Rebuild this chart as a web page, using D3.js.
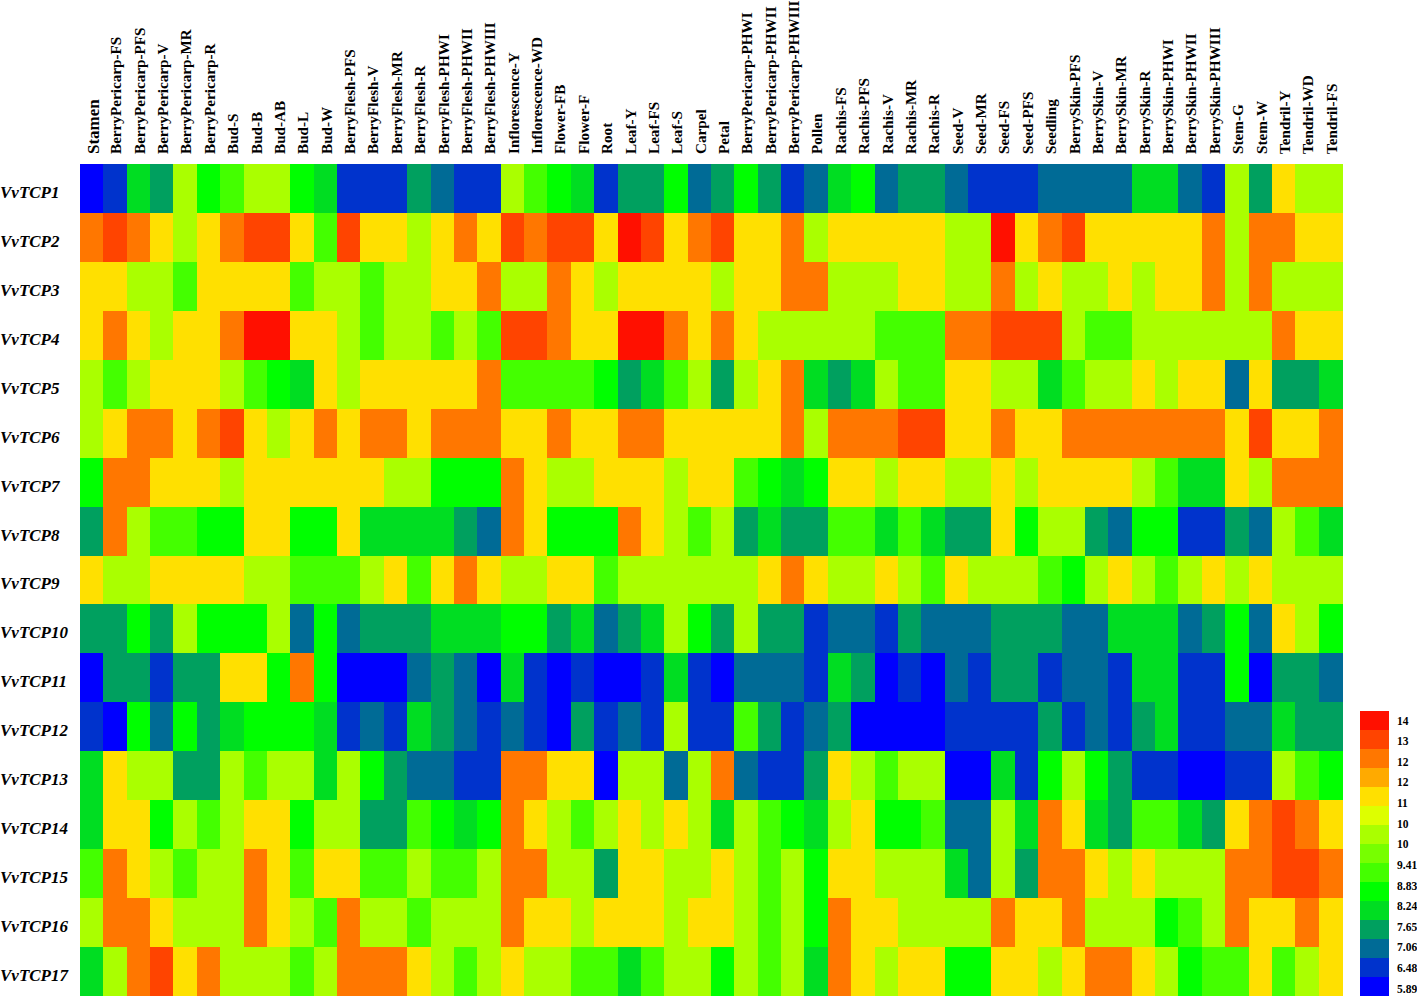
<!DOCTYPE html>
<html>
<head>
<meta charset="utf-8">
<script src="https://cdn.jsdelivr.net/npm/d3@7/dist/d3.min.js"></script>
<style>
html,body{margin:0;padding:0;background:#fff;overflow:hidden}
svg{display:block}
text{font-family:"Liberation Serif","Times New Roman",serif;fill:#000}
</style>
</head>
<body>
<svg id="chart" width="1417" height="996"></svg>
<script>
const tissues = ["Stamen","BerryPericarp-FS","BerryPericarp-PFS","BerryPericarp-V","BerryPericarp-MR","BerryPericarp-R","Bud-S","Bud-B","Bud-AB","Bud-L","Bud-W","BerryFlesh-PFS","BerryFlesh-V","BerryFlesh-MR","BerryFlesh-R","BerryFlesh-PHWI","BerryFlesh-PHWII","BerryFlesh-PHWIII","Inflorescence-Y","Inflorescence-WD","Flower-FB","Flower-F","Root","Leaf-Y","Leaf-FS","Leaf-S","Carpel","Petal","BerryPericarp-PHWI","BerryPericarp-PHWII","BerryPericarp-PHWIII","Pollen","Rachis-FS","Rachis-PFS","Rachis-V","Rachis-MR","Rachis-R","Seed-V","Seed-MR","Seed-FS","Seed-PFS","Seedling","BerrySkin-PFS","BerrySkin-V","BerrySkin-MR","BerrySkin-R","BerrySkin-PHWI","BerrySkin-PHWII","BerrySkin-PHWIII","Stem-G","Stem-W","Tendril-Y","Tendril-WD","Tendril-FS"];
const genes = ["VvTCP1","VvTCP2","VvTCP3","VvTCP4","VvTCP5","VvTCP6","VvTCP7","VvTCP8","VvTCP9","VvTCP10","VvTCP11","VvTCP12","VvTCP13","VvTCP14","VvTCP15","VvTCP16","VvTCP17"];

const vvTCP1 = [5.9,6.5,8.2,7.7,10.6,8.8,9.4,10.6,10.6,8.8,8.2,6.5,6.5,6.5,7.7,7.1,6.5,6.5,10.6,9.4,8.8,8.2,6.5,7.7,7.7,8.8,7.1,7.7,8.8,7.7,6.5,7.1,8.2,8.8,7.1,7.7,7.7,7.1,6.5,6.5,6.5,7.1,7.1,7.1,7.1,8.2,8.2,7.1,6.5,10.6,7.7,11.8,10.6,10.6];
const vvTCP2 = [12.9,13.5,12.9,11.8,10.6,11.8,12.9,13.5,13.5,11.8,9.4,13.5,11.8,11.8,10.6,11.8,12.9,11.8,13.5,12.9,13.5,13.5,11.8,14.1,13.5,11.8,12.9,13.5,11.8,11.8,12.9,10.6,11.8,11.8,11.8,11.8,11.8,10.6,10.6,14.1,11.8,12.9,13.5,11.8,11.8,11.8,11.8,11.8,12.9,10.6,12.9,12.9,11.8,11.8];
const vvTCP3 = [11.8,11.8,10.6,10.6,9.4,11.8,11.8,11.8,11.8,9.4,10.6,10.6,9.4,10.6,10.6,11.8,11.8,12.9,10.6,10.6,12.9,11.8,10.6,11.8,11.8,11.8,11.8,10.6,11.8,11.8,12.9,12.9,10.6,10.6,10.6,11.8,11.8,10.6,10.6,12.9,10.6,11.8,10.6,10.6,11.8,10.6,11.8,11.8,12.9,10.6,12.9,10.6,10.6,10.6];
const vvTCP4 = [11.8,12.9,11.8,10.6,11.8,11.8,12.9,14.1,14.1,11.8,11.8,10.6,9.4,10.6,10.6,9.4,10.6,9.4,13.5,13.5,12.9,11.8,11.8,14.1,14.1,12.9,11.8,12.9,11.8,10.6,10.6,10.6,10.6,10.6,9.4,9.4,9.4,12.9,12.9,13.5,13.5,13.5,10.6,9.4,9.4,10.6,10.6,10.6,10.6,10.6,10.6,12.9,11.8,11.8];
const vvTCP5 = [10.6,9.4,10.6,11.8,11.8,11.8,10.6,9.4,8.8,8.2,11.8,10.6,11.8,11.8,11.8,11.8,11.8,12.9,9.4,9.4,9.4,9.4,8.8,7.7,8.2,9.4,10.6,7.7,10.6,11.8,12.9,8.2,7.7,8.2,10.6,9.4,9.4,11.8,11.8,10.6,10.6,8.2,9.4,10.6,10.6,11.8,10.6,11.8,11.8,7.1,11.8,7.7,7.7,8.2];
const vvTCP6 = [10.6,11.8,12.9,12.9,11.8,12.9,13.5,11.8,10.6,11.8,12.9,11.8,12.9,12.9,11.8,12.9,12.9,12.9,11.8,11.8,12.9,11.8,11.8,12.9,12.9,11.8,11.8,11.8,11.8,11.8,12.9,10.6,12.9,12.9,12.9,13.5,13.5,11.8,11.8,12.9,11.8,11.8,12.9,12.9,12.9,12.9,12.9,12.9,12.9,11.8,13.5,11.8,11.8,12.9];
const vvTCP7 = [8.8,12.9,12.9,11.8,11.8,11.8,10.6,11.8,11.8,11.8,11.8,11.8,11.8,10.6,10.6,8.8,8.8,8.8,12.9,11.8,10.6,10.6,11.8,11.8,11.8,10.6,11.8,11.8,9.4,8.8,8.2,8.8,11.8,11.8,10.6,11.8,11.8,10.6,10.6,11.8,10.6,11.8,11.8,11.8,11.8,10.6,9.4,8.2,8.2,11.8,10.6,12.9,12.9,12.9];
const vvTCP8 = [7.7,12.9,10.6,9.4,9.4,8.8,8.8,11.8,11.8,8.8,8.8,11.8,8.2,8.2,8.2,8.2,7.7,7.1,12.9,11.8,8.8,8.8,8.8,12.9,11.8,10.6,9.4,10.6,7.7,8.2,7.7,7.7,9.4,9.4,8.2,9.4,8.2,7.7,7.7,11.8,8.8,10.6,10.6,7.7,7.1,8.8,8.8,6.5,6.5,7.7,7.1,10.6,9.4,8.2];
const vvTCP9 = [11.8,10.6,10.6,11.8,11.8,11.8,11.8,10.6,10.6,9.4,9.4,9.4,10.6,11.8,9.4,11.8,12.9,11.8,10.6,10.6,11.8,11.8,9.4,10.6,10.6,10.6,10.6,10.6,10.6,11.8,12.9,11.8,10.6,10.6,11.8,10.6,9.4,11.8,10.6,10.6,10.6,9.4,8.8,10.6,11.8,10.6,9.4,10.6,11.8,10.6,11.8,10.6,10.6,10.6];
const vvTCP10 = [7.7,7.7,8.8,7.7,10.6,8.8,8.8,8.8,10.6,7.1,8.8,7.1,7.7,7.7,7.7,8.2,8.2,8.2,8.8,8.8,7.7,8.2,7.1,7.7,8.2,10.6,8.8,7.7,10.6,7.7,7.7,6.5,7.1,7.1,6.5,7.7,7.1,7.1,7.1,7.7,7.7,7.7,7.1,7.1,8.2,8.2,8.2,7.1,7.7,8.8,7.1,11.8,10.6,8.8];
const vvTCP11 = [5.9,7.7,7.7,6.5,7.7,7.7,11.8,11.8,8.8,12.9,8.8,5.9,5.9,5.9,7.1,7.7,7.1,5.9,8.2,6.5,5.9,6.5,5.9,5.9,6.5,8.2,6.5,5.9,7.1,7.1,7.1,6.5,8.2,7.7,5.9,6.5,5.9,7.1,6.5,7.7,7.7,6.5,7.1,7.1,6.5,8.2,8.2,6.5,6.5,8.8,5.9,7.7,7.7,7.1];
const vvTCP12 = [6.5,5.9,8.8,7.1,8.8,7.7,8.2,8.8,8.8,8.8,8.2,6.5,7.1,6.5,8.2,7.7,7.1,6.5,7.1,6.5,5.9,7.7,6.5,7.1,6.5,10.6,6.5,6.5,9.4,7.7,6.5,7.1,7.7,5.9,5.9,5.9,5.9,6.5,6.5,6.5,6.5,7.7,6.5,7.1,6.5,7.7,8.2,6.5,6.5,7.1,7.1,8.2,7.7,7.7];
const vvTCP13 = [8.2,11.8,10.6,10.6,7.7,7.7,10.6,9.4,10.6,10.6,8.2,10.6,8.8,7.7,7.1,7.1,6.5,6.5,12.9,12.9,11.8,11.8,5.9,10.6,10.6,7.1,10.6,12.9,7.1,6.5,6.5,7.7,11.8,10.6,9.4,10.6,10.6,5.9,5.9,8.2,6.5,8.8,10.6,8.8,7.7,6.5,6.5,5.9,5.9,6.5,6.5,10.6,9.4,8.8];
const vvTCP14 = [8.2,11.8,11.8,8.8,10.6,9.4,10.6,11.8,11.8,8.8,10.6,10.6,7.7,7.7,9.4,8.8,8.2,8.8,12.9,11.8,10.6,9.4,10.6,11.8,10.6,11.8,10.6,8.2,10.6,9.4,8.8,8.2,10.6,11.8,8.8,8.8,9.4,7.1,7.1,10.6,8.2,12.9,11.8,8.2,7.7,9.4,9.4,8.2,7.7,11.8,12.9,13.5,12.9,11.8];
const vvTCP15 = [9.4,12.9,11.8,10.6,9.4,10.6,10.6,12.9,11.8,9.4,11.8,11.8,9.4,9.4,10.6,9.4,9.4,10.6,12.9,12.9,10.6,10.6,7.7,11.8,11.8,10.6,10.6,11.8,10.6,9.4,10.6,8.8,11.8,11.8,10.6,10.6,10.6,8.2,7.1,10.6,7.7,12.9,12.9,11.8,10.6,11.8,10.6,10.6,10.6,12.9,12.9,13.5,13.5,12.9];
const vvTCP16 = [10.6,12.9,12.9,11.8,10.6,10.6,10.6,12.9,11.8,10.6,9.4,12.9,10.6,10.6,9.4,10.6,10.6,10.6,12.9,11.8,11.8,10.6,11.8,11.8,11.8,10.6,11.8,11.8,10.6,9.4,10.6,8.8,12.9,11.8,11.8,10.6,10.6,10.6,10.6,12.9,11.8,11.8,12.9,10.6,10.6,10.6,8.8,9.4,10.6,12.9,11.8,11.8,12.9,11.8];
const vvTCP17 = [8.2,10.6,12.9,13.5,11.8,12.9,10.6,10.6,10.6,9.4,10.6,12.9,12.9,12.9,11.8,10.6,9.4,10.6,11.8,10.6,10.6,9.4,9.4,8.2,9.4,10.6,10.6,8.8,10.6,9.4,10.6,8.2,12.9,11.8,10.6,11.8,11.8,8.8,8.8,11.8,11.8,10.6,11.8,12.9,12.9,11.8,10.6,8.8,9.4,9.4,11.8,9.4,10.6,11.8];
const matrix = [vvTCP1,vvTCP2,vvTCP3,vvTCP4,vvTCP5,vvTCP6,vvTCP7,vvTCP8,vvTCP9,vvTCP10,vvTCP11,vvTCP12,vvTCP13,vvTCP14,vvTCP15,vvTCP16,vvTCP17];

const palette = ["#0000ff","#0033cc","#006b96","#00a05f","#00dd22","#00ff00","#44ff00","#77ff00","#aaff00","#ddff00","#ffe000","#ffaa00","#ff7700","#ff4400","#ff1000"];
const legendLabels = ["14","13","12","12","11","10","10","9.41","8.83","8.24","7.65","7.06","6.48","5.89"];
const valueDomain = [5.6,14.4];

const svg = d3.select("#chart");
const x = d3.scaleBand().domain(tissues).range([80,1342]);
const y = d3.scaleBand().domain(genes).range([164,996]);
const color = d3.scaleQuantize().domain(valueDomain).range(palette);

const cells = genes.flatMap((g,r)=>tissues.map((t,c)=>({gene:g,tissue:t,value:matrix[r][c]})));
svg.append("g").attr("shape-rendering","crispEdges").selectAll("rect").data(cells).join("rect")
  .attr("x",d=>x(d.tissue)).attr("y",d=>y(d.gene))
  .attr("width",x.bandwidth()+0.5).attr("height",y.bandwidth()+0.5)
  .attr("fill",d=>color(d.value));

const xAxis = svg.append("g").attr("transform","translate(1,164)")
  .call(d3.axisTop(x).tickSize(0).tickPadding(0));
xAxis.select(".domain").remove();
xAxis.selectAll("text")
  .attr("transform","translate(0,-10) rotate(-90)")
  .attr("x",0).attr("y",0).attr("dy","0.35em")
  .attr("text-anchor","start")
  .style("font-family",'"Liberation Serif",serif').style("font-weight","bold")
  .style("font-size",d=>d==="Stamen"?"17px":"15.2px").style("fill","#000");

const yAxis = svg.append("g").attr("transform","translate(0,3.5)")
  .call(d3.axisLeft(y).tickSize(0).tickPadding(0));
yAxis.select(".domain").remove();
yAxis.selectAll("text")
  .attr("x",0).attr("dy","0.35em").attr("text-anchor","start")
  .style("font-family",'"Liberation Serif",serif').style("font-weight","bold").style("font-style","italic").style("font-size","17px").style("fill","#000");

const legendY = d3.scaleBand().domain(d3.range(palette.length)).range([711,996]);
svg.append("g").attr("shape-rendering","crispEdges").selectAll("rect").data(palette.slice().reverse()).join("rect")
  .attr("x",1360).attr("width",28.7)
  .attr("y",(d,i)=>legendY(i)).attr("height",legendY.bandwidth()+0.5)
  .attr("fill",d=>d);

const legendLabelY = d3.scalePoint().domain(d3.range(legendLabels.length)).range([720.5,988.7]);
svg.append("g").selectAll("text").data(legendLabels).join("text")
  .attr("x",1397).attr("y",(d,i)=>legendLabelY(i)).attr("dy","0.35em")
  .style("font-weight","bold").style("font-size","11.5px").text(d=>d);
</script>
</body>
</html>
